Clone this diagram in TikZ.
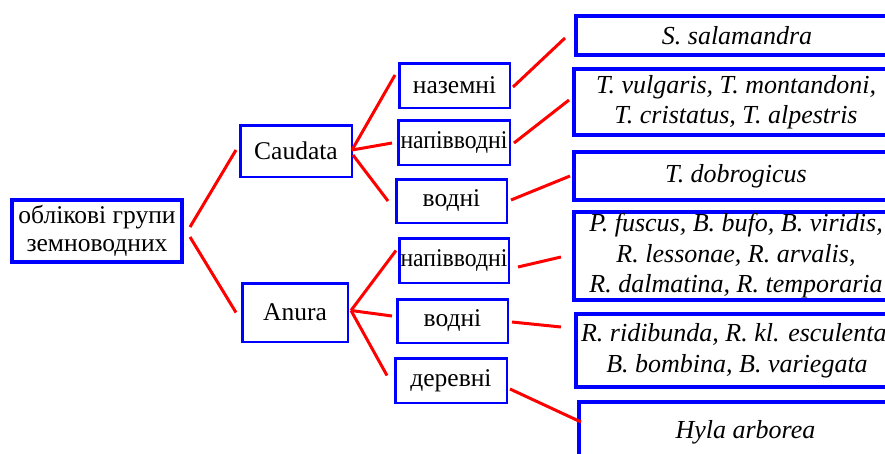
\documentclass[tikz,border=0pt]{standalone}
\usepackage{fontspec}
\setmainfont{Liberation Serif}
\begin{document}
\begin{tikzpicture}[x=1pt,y=-1pt,
  box/.style={draw=blue,line width=2.5pt,rectangle,inner sep=0pt,align=center,
    font=\fontsize{25.5}{28}\selectfont},
  bigbox/.style={draw=blue,line width=4pt,rectangle,inner sep=0pt,align=center,
    font=\fontsize{25.5}{28}\selectfont},
  spbox/.style={draw=blue,line width=4pt,rectangle,inner sep=0pt,align=center,
    font=\fontsize{26}{30.5}\selectfont\itshape},
  link/.style={draw=red,line width=3pt}]
\useasboundingbox (0,0) rectangle (885,453);
\clip (0,0) rectangle (885,453);
% root
\node[bigbox,minimum width=170pt,minimum height=62pt] (root) at (97,231) {облікові групи\\земноводних};
% level 1
\node[box,minimum width=111.5pt,minimum height=51.5pt] (caud) at (296,151) {Caudata};
\node[box,minimum width=105.5pt,minimum height=58.5pt] (anura) at (295,312.5) {Anura};
% level 2
\node[box,minimum width=110.5pt,minimum height=44.5pt] (cnaz) at (454.5,85.5) {наземні};
\node[box,minimum width=111.5pt,minimum height=44.5pt] (cnap) at (454,142.5) {\scalebox{0.93}[1]{напівводні}};
\node[box,minimum width=110.5pt,minimum height=43.5pt] (cvod) at (451.5,201) {водні};
\node[box,minimum width=109.5pt,minimum height=44.5pt] (anap) at (454,260.5) {\scalebox{0.93}[1]{напівводні}};
\node[box,minimum width=110.5pt,minimum height=43.5pt] (avod) at (452.5,321) {водні};
\node[box,minimum width=111.5pt,minimum height=44.5pt] (ader) at (451,380.5) {деревні};
% species
\node[spbox,minimum width=322pt,minimum height=39pt] (s1) at (737,35.5) {S. salamandra};
\node[spbox,minimum width=324pt,minimum height=66pt] (s2) at (736,102) {T. vulgaris, T. montandoni,\\T. cristatus, T. alpestris};
\node[spbox,minimum width=324pt,minimum height=48pt] (s3) at (736,176) {T. dobrogicus};
\node[spbox,minimum width=324pt,minimum height=88pt] (s4) at (736,256) {P. fuscus, B. bufo, B. viridis,\\R. lessonae, R. arvalis,\\R. dalmatina, R. temporaria};
\node[spbox,minimum width=322pt,minimum height=73pt] (s5) at (737,350.5) {R. ridibunda, R. kl. esculenta,\\B. bombina, B. variegata};
\node[spbox,minimum width=333pt,minimum height=60pt] (s6) at (745.5,432) {Hyla arborea};
% connectors
\draw[link] ([shift={(6,-4)}]root.east) -- ([shift={(-3,-1)}]caud.west);
\draw[link] ([shift={(6,6)}]root.east) -- ([shift={(-5,0)}]anura.west);
\draw[link] ([shift={(-1,-1)}]caud.east) -- ([shift={(-3,-10.5)}]cnaz.west);
\draw[link] ([shift={(-1,-1)}]caud.east) -- ([shift={(-5,0.5)}]cnap.west);
\draw[link] ([shift={(0,4)}]caud.east) -- ([shift={(-7,0)}]cvod.west);
\draw[link] ([shift={(2,-2)}]anura.east) -- ([shift={(-2,-10)}]anap.west);
\draw[link] ([shift={(2,-2)}]anura.east) -- ([shift={(-4,-5)}]avod.west);
\draw[link] ([shift={(2,-2)}]anura.east) -- ([shift={(-7,-5)}]ader.west);
\draw[link] ([shift={(2,1.5)}]cnaz.east) -- ([shift={(-9,2.5)}]s1.west);
\draw[link] ([shift={(3,0.5)}]cnap.east) -- ([shift={(-3,-2)}]s2.west);
\draw[link] ([shift={(3,-1)}]cvod.east) -- ([shift={(-2,0)}]s3.west);
\draw[link] ([shift={(8,6.5)}]anap.east) -- ([shift={(-11,1)}]s4.west);
\draw[link] ([shift={(3,1)}]avod.east) -- ([shift={(-13,-23.5)}]s5.west);
\draw[link] ([shift={(2,8.5)}]ader.east) -- ([shift={(4,-10)}]s6.west);
\end{tikzpicture}
\end{document}
